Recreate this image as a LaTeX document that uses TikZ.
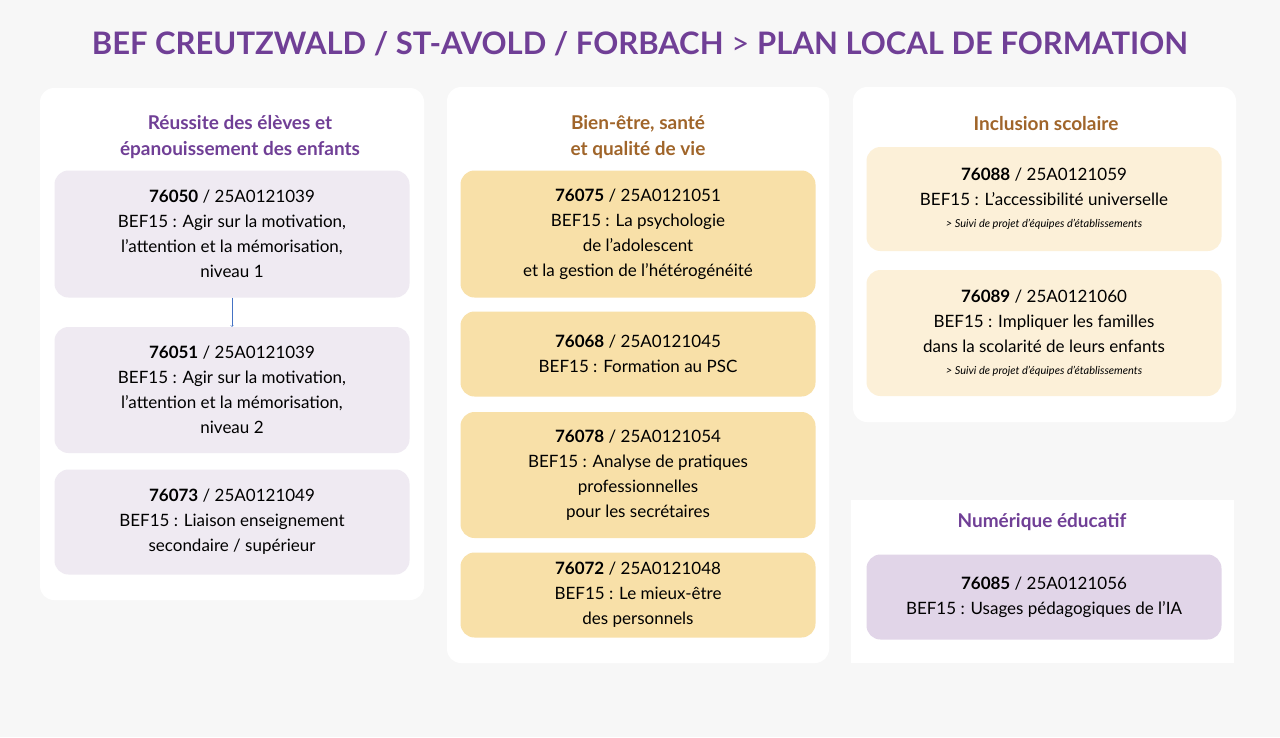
\documentclass[tikz,border=0pt]{standalone}
\usepackage{fontspec}
\setmainfont{Lato}
\usetikzlibrary{positioning}
\definecolor{bg}{HTML}{F7F7F7}
\definecolor{violet}{HTML}{703F96}
\definecolor{brun}{HTML}{A0652A}
\definecolor{lilas}{HTML}{EFEAF2}
\definecolor{jaune}{HTML}{F8E0A8}
\definecolor{creme}{HTML}{FCF0D8}
\definecolor{mauve}{HTML}{E1D5E8}
\definecolor{fleche}{HTML}{4472C4}
\tikzset{panel/.style={fill=white,rounded corners=14pt,draw=none}}
\tikzset{card/.style={rounded corners=14pt,minimum width=355pt,align=center,
                      font=\fontsize{17}{25}\selectfont,inner sep=0pt}}
\tikzset{head/.style={align=center,font=\fontsize{19}{26}\selectfont\bfseries}}
\newcommand{\petit}[1]{\\[-3pt]{\fontsize{11}{14}\selectfont\itshape #1}}
\begin{document}
\begin{tikzpicture}[x=1pt,y=-1pt]
    \fill[bg] (0,0) rectangle (1280,737);
    \useasboundingbox (0,0) rectangle (1280,737);

    % titre
    \node[text=violet,font=\fontsize{31}{36}\selectfont] (titre) at (640,44)
        {\textbf{BEF CREUTZWALD / ST-AVOLD / FORBACH} > \textbf{PLAN LOCAL DE FORMATION}};

    % panneaux
    \fill[panel] (40,88) rectangle (424,600);
    \fill[panel] (447,87) rectangle (829,663);
    \fill[panel] (853,87) rectangle (1236,422);
    \fill[white] (851,500) rectangle (1234,663);

    % titres de colonnes
    \node[head,text=violet] (h1) at (240,137) {Réussite des élèves et\\épanouissement des enfants};
    \node[head,text=brun] (h2) at (638,137) {Bien-être, santé\\et qualité de vie};
    \node[head,text=brun] (h3) at (1046,124) {Inclusion scolaire};
    \node[head,text=violet] (h4) at (1042,522) {Numérique éducatif};

    % colonne 1
    \node[card,fill=lilas,minimum height=127pt] (c11) at (232,234)
        {\textbf{76050} / 25A0121039\\BEF15 : Agir sur la motivation,\\l’attention et la mémorisation,\\niveau 1};
    \node[card,fill=lilas,minimum height=126pt] (c12) at (232,390)
        {\textbf{76051} / 25A0121039\\BEF15 : Agir sur la motivation,\\l’attention et la mémorisation,\\niveau 2};
    \node[card,fill=lilas,minimum height=105pt] (c13) at (232,522)
        {\textbf{76073} / 25A0121049\\BEF15 : Liaison enseignement\\secondaire / supérieur};
    \draw[->,fleche] (c11) -- (c12);

    % colonne 2
    \node[card,fill=jaune,minimum height=127pt] (c21) at (638,234)
        {\textbf{76075} / 25A0121051\\BEF15 : La psychologie\\de l’adolescent\\et la gestion de l’hétérogénéité};
    \node[card,fill=jaune,minimum height=85pt] (c22) at (638,354)
        {\textbf{76068} / 25A0121045\\BEF15 : Formation au PSC};
    \node[card,fill=jaune,minimum height=126pt] (c23) at (638,475)
        {\textbf{76078} / 25A0121054\\BEF15 : Analyse de pratiques\\professionnelles\\pour les secrétaires};
    \node[card,fill=jaune,minimum height=85pt] (c24) at (638,595)
        {\textbf{76072} / 25A0121048\\BEF15 : Le mieux-être\\des personnels};

    % colonne 3
    \node[card,fill=creme,minimum height=104pt] (c31) at (1044,199)
        {\textbf{76088} / 25A0121059\\BEF15 : L’accessibilité universelle\petit{> Suivi de projet d’équipes d’établissements}};
    \node[card,fill=creme,minimum height=126pt] (c32) at (1044,333)
        {\textbf{76089} / 25A0121060\\BEF15 : Impliquer les familles\\dans la scolarité de leurs enfants\petit{> Suivi de projet d’équipes d’établissements}};
    \node[card,fill=mauve,minimum height=85pt] (c41) at (1044,597)
        {\textbf{76085} / 25A0121056\\BEF15 : Usages pédagogiques de l’IA};
\end{tikzpicture}
\end{document}
